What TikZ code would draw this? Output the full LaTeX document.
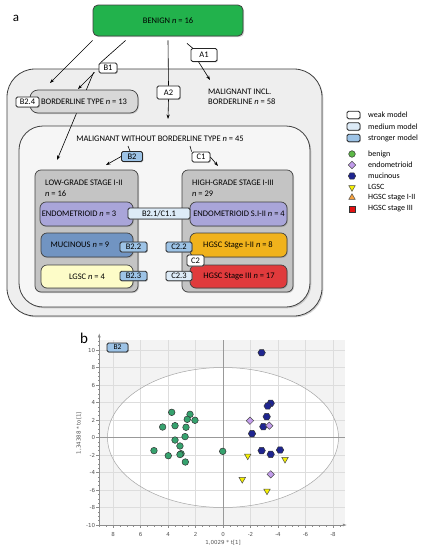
\documentclass[tikz,border=0pt]{standalone}
\usepackage{fontspec}
\setmainfont{Carlito}
\newfontfamily\plotfont{DejaVu Sans}
\usetikzlibrary{arrows.meta,shapes.geometric,shadows,calc}
\definecolor{bgreen}{HTML}{22B24C}
\definecolor{lav}{HTML}{A9A5D9}
\definecolor{mucb}{HTML}{7194C2}
\definecolor{amber}{HTML}{F0B21C}
\definecolor{hred}{HTML}{E03A3C}
\definecolor{lyel}{HTML}{FDFCC8}
\definecolor{gbox}{HTML}{C4C4C4}
\definecolor{bbox}{HTML}{D8D8D8}
\definecolor{outerc}{HTML}{EEEEEE}
\definecolor{innerc}{HTML}{F6F6F6}
\definecolor{medc}{HTML}{DDEBF7}
\definecolor{strc}{HTML}{9DC3E6}
\definecolor{edgec}{HTML}{404040}
\definecolor{sgreen}{HTML}{36A26E}
\definecolor{lgreen}{HTML}{5DB847}
\definecolor{navy}{HTML}{1F2590}
\definecolor{slav}{HTML}{C29CEB}
\definecolor{syel}{HTML}{F5F000}
\definecolor{sorange}{HTML}{F7A13E}
\definecolor{sred}{HTML}{E31212}
\definecolor{plotbg}{HTML}{F3F3F3}
\definecolor{gridc}{HTML}{DDDDDD}
\definecolor{tickc}{HTML}{555555}
\begin{document}
\begin{tikzpicture}[x=1pt,y=-1pt,
 font=\fontsize{8.5}{10}\selectfont,
 region/.style={draw=edgec,line width=0.8pt,inner sep=0pt,drop shadow={shadow xshift=1.3pt,shadow yshift=-1.3pt,opacity=0.35}},
 catbox/.style={draw=edgec,line width=0.7pt,inner sep=0pt,rounded corners=6pt,drop shadow={shadow xshift=1pt,shadow yshift=-1pt,opacity=0.35}},
 lab/.style={draw=black!85,line width=0.8pt,rounded corners=1.5pt,inner sep=0pt,fill=white,drop shadow={shadow xshift=0.8pt,shadow yshift=-0.8pt,opacity=0.45}},
 txt/.style={inner sep=0pt},
 arr/.style={-{Stealth[length=4.5pt,width=3.2pt]},line width=0.6pt},
 ln/.style={line width=0.6pt},
 legtxt/.style={inner sep=0pt,anchor=west,font=\fontsize{8}{9}\selectfont},
 tick/.style={inner sep=0pt,text=tickc,font=\plotfont\fontsize{5.5}{6}\selectfont},
 axc/.style={draw=black!45,line width=0.5pt},
 mcirc/.style={circle,draw=black!80,line width=0.5pt,fill=sgreen,minimum size=6.6pt,inner sep=0pt},
 mhex/.style={regular polygon,regular polygon sides=6,draw=black!80,line width=0.5pt,fill=navy,minimum size=7.4pt,inner sep=0pt},
 mdia/.style={diamond,draw=black!70,line width=0.5pt,fill=slav,minimum size=7.6pt,inner sep=0pt},
 mtri/.style={regular polygon,regular polygon sides=3,shape border rotate=180,draw=black!70,line width=0.5pt,fill=syel,minimum size=7.5pt,inner sep=0pt},
 mtriup/.style={regular polygon,regular polygon sides=3,draw=black!70,line width=0.5pt,fill=sorange,minimum size=7.5pt,inner sep=0pt},
 msq/.style={rectangle,draw=black!80,line width=0.5pt,fill=sred,minimum size=6pt,inner sep=0pt}]
\useasboundingbox (0,0) rectangle (425,550);
\fill[white] (0,0) rectangle (425,550);

% panel letters
\node[txt,font=\fontsize{13}{13}\selectfont] (pa) at (16,18) {a};
\node[txt,font=\fontsize{15}{15}\selectfont] (pb) at (84,338) {b};

% regions
\node[region,fill=outerc,rounded corners=28pt,minimum width=315pt,minimum height=247pt] (outer) at (164.5,192.5) {};
\node[region,fill=innerc,rounded corners=24pt,minimum width=291pt,minimum height=181pt] (inner) at (164.5,216.5) {};
\node[draw=edgec,line width=0.8pt,fill=bgreen,rounded corners=5pt,minimum width=150pt,minimum height=31pt,drop shadow={shadow xshift=1.2pt,shadow yshift=-1.2pt,opacity=0.35}] (benign) at (168,20.5) {BENIGN \textit{n} = 16};

% model labels on the upper connectors
\node[lab,minimum width=18pt,minimum height=10pt] (B1) at (108,68) {B1};
\node[lab,minimum width=26pt,minimum height=13pt] (A1) at (204,55) {A1};
\node[lab,minimum width=23pt,minimum height=13pt] (A2) at (168.5,92.5) {A2};
\node[lab,fill=strc,minimum width=21pt,minimum height=10pt] (B2) at (132,156.5) {B2};
\node[lab,minimum width=18pt,minimum height=10pt] (C1) at (201,157) {C1};

% connector ends
\coordinate (s1) at ($(benign.south west)+(0,4)$);
\coordinate (s2) at ($(benign.south west)+(33,4)$);
\coordinate (s3) at ($(benign.south)+(0,4)$);
\coordinate (s4) at ($(benign.south)+(19,7)$);
\coordinate (s5) at (128,146);
\coordinate (s6) at (190,146);
\coordinate (e1) at (50,83);
\coordinate (e2) at (78,89);
\coordinate (e3) at (57,160);
\coordinate (e4) at (210,80);
\coordinate (e5) at (168,119);
\coordinate (e6) at (106,165);
\coordinate (e7) at (218,166);

\draw[arr] (s1) -- (e1);
\draw[ln] (s2) -- ($(B1.north west)+(2,0)$);
\draw[arr] ($(B1.south west)+(-4,-1)$) -- (e2);
\draw[arr] ($(B1.south west)+(-5,-1)$) -- (e3);
\draw[ln] (s3) -- (A2.north);
\draw[arr] (A2.south) -- (e5);
\draw[ln] (s4) -- ($(A1.north west)+(2,0)$);
\draw[arr] ($(A1.south west)+(8,0)$) -- (e4);
\draw[ln] (s5) -- ($(B2.north)+(-2,0)$);
\draw[arr] (B2.west) -- (e6);
\draw[ln] (s6) -- (C1.north west);
\draw[arr] (C1.east) -- (e7);

% borderline
\node[catbox,fill=bbox,rounded corners=8pt,minimum width=108pt,minimum height=23pt] (border) at (84,101.5) {BORDERLINE TYPE \textit{n} = 13};
\node[lab,minimum width=23pt,minimum height=10pt] (B24) at (27.5,102) {B2.4};

% region titles
\node[txt,anchor=west,align=left] (mincl) at (208,97) {MALIGNANT INCL.\\BORDERLINE \textit{n} = 58};
\node[txt] (mwo) at (160,139) {MALIGNANT WITHOUT BORDERLINE TYPE \textit{n} = 45};

% grade boxes
\node[catbox,fill=gbox,minimum width=103pt,minimum height=122pt] (low) at (86.5,231) {};
\node[catbox,fill=gbox,minimum width=111pt,minimum height=122pt] (high) at (237.5,231) {};
\node[txt,anchor=west,align=left,font=\fontsize{8.5}{10.6}\selectfont] (lowt) at (45,188) {LOW-GRADE STAGE I-II\\\textit{n} = 16};
\node[txt,anchor=west,align=left,font=\fontsize{8.5}{10.6}\selectfont] (hight) at (192,188) {HIGH-GRADE STAGE I-III\\\textit{n} = 29};

% subtype boxes
\node[catbox,fill=lav,minimum width=93pt,minimum height=24pt] (endo1) at (86.5,214) {};
\node[catbox,fill=lav,minimum width=97pt,minimum height=24pt] (endo2) at (238.5,214) {};
\node[catbox,fill=mucb,minimum width=92pt,minimum height=24pt] (muc) at (87,245) {};
\node[catbox,fill=amber,minimum width=97pt,minimum height=24pt] (hg12) at (238.5,245) {};
\node[catbox,fill=lyel,minimum width=92pt,minimum height=23pt] (lgsc) at (87,276.5) {};
\node[catbox,fill=hred,minimum width=97pt,minimum height=23pt] (hg3) at (238.5,276.5) {};
\node[txt] (endo1t) at (79,214) {ENDOMETRIOID \textit{n} = 3};
\node[txt] (endo2t) at (239,214) {ENDOMETRIOID S.I-II \textit{n} = 4};
\node[txt] (muct) at (80,245) {MUCINOUS \textit{n} = 9};
\node[txt] (hg12t) at (238,245) {HGSC Stage I-II \textit{n} = 8};
\node[txt] (lgsct) at (87,276.5) {LGSC \textit{n} = 4};
\node[txt] (hg3t) at (239,276.5) {HGSC Stage III \textit{n} = 17};

% model labels between columns
\node[lab,fill=medc,minimum width=62pt,minimum height=11pt] (B21) at (159,213.5) {B2.1/C1.1};
\node[lab,fill=strc,minimum width=27pt,minimum height=10pt] (B22) at (133.5,247) {B2.2};
\node[lab,fill=strc,minimum width=26pt,minimum height=10pt] (C22) at (179,247) {C2.2};
\node[lab,minimum width=17pt,minimum height=11pt] (C2) at (195.5,260.5) {C2};
\node[lab,fill=strc,minimum width=27pt,minimum height=9.5pt] (B23) at (133.5,276) {B2.3};
\node[lab,fill=medc,minimum width=26pt,minimum height=9.5pt] (C23) at (179,276) {C2.3};

% legend
\node[lab,minimum width=13pt,minimum height=7.5pt] (lw) at (353.5,115) {};
\node[lab,fill=medc,minimum width=13pt,minimum height=7.5pt] (lm) at (353.5,126.5) {};
\node[lab,fill=strc,minimum width=13pt,minimum height=7.5pt] (ls) at (353.5,138) {};
\node[legtxt] (lwt) at (368,115) {weak model};
\node[legtxt] (lmt) at (368,126.5) {medium model};
\node[legtxt] (lst) at (368,138) {stronger model};
\node[mcirc,fill=lgreen] (k1) at (352,154) {};
\node[mdia] (k2) at (352,165) {};
\node[mhex] (k3) at (352,176) {};
\node[mtri] (k4) at (352,187.5) {};
\node[mtriup] (k5) at (352,197.5) {};
\node[msq] (k6) at (352,209) {};
\node[legtxt] (k1t) at (368,154) {benign};
\node[legtxt] (k2t) at (368,165) {endometrioid};
\node[legtxt] (k3t) at (368,176) {mucinous};
\node[legtxt] (k4t) at (368,187) {LGSC};
\node[legtxt] (k5t) at (368,198) {HGSC stage I-II};
\node[legtxt] (k6t) at (368,209) {HGSC stage III};

% score plot
\begin{scope}[shift={(223,437.5)},x={(-13.75pt,0pt)},y={(0pt,8.75pt)}]
 \fill[plotbg] (9,-10) rectangle (-8.9,11.2);
 \fill[white] (0,0) ellipse [x radius=115.5pt,y radius=70pt];
 \foreach \u in {8,6,4,2,-2,-4,-6,-8} \draw[gridc,line width=0.4pt] (\u,-10) -- (\u,11.2);
 \foreach \v in {10,8,6,4,2,-2,-4,-6,-8} \draw[gridc,line width=0.4pt] (9,\v) -- (-8.9,\v);
 \draw[black!35,line width=0.5pt] (0,0) ellipse [x radius=115.5pt,y radius=70pt];
 \draw[black!40,line width=0.9pt] (0,-10) -- (0,11.2);
 \draw[black!40,line width=0.9pt] (9,0) -- (-8.9,0);
 \draw[axc,-{Latex[length=4pt,width=3pt]}] (9,-10) -- (9,11.9);
 \draw[axc,-{Latex[length=4pt,width=3pt]}] (9,-10) -- (-9,-10);
 \foreach \k in {-20,...,22} \draw[axc] (9,\k/2) -- ++(-1.5pt,0pt);
 \foreach \v in {-10,-8,...,10} \draw[axc] (9,\v) -- ++(-3pt,0pt);
 \foreach \k in {-17,...,18} \draw[axc] (\k/2,-10) -- ++(0pt,-1.5pt);
 \foreach \u in {-8,-6,...,8} \draw[axc] (\u,-10) -- ++(0pt,-3pt);
 \foreach \v [count=\i] in {-10,-8,-6,-4,-2,0,2,4,6,8,10} \node[tick,anchor=east,xshift=-4pt] (yl\i) at (9,\v) {\v};
 \foreach \u [count=\i] in {8,6,4,2,0,-2,-4,-6,-8} \node[tick,yshift=-9pt] (xl\i) at (\u,-10) {\u};
 \foreach \x/\y [count=\i] in {3.73/2.88,2.4/2.65,2.6/2.08,2.04/1.97,4.39/1.2,3.49/1.35,2.69/1.17,2.76/0.1,3.49/-0.29,3.13/-0.97,5.02/-1.5,3.98/-2.08,3.05/-1.85,3.13/-1.95,2.74/-2.8,0.02/-1.58}
   \node[mcirc] (g\i) at (\x,\y) {};
 \foreach \x/\y [count=\i] in {-2.81/9.69,-3.47/3.91,-3.25/3.6,-3.18/2.38,-2.93/1.24,-2.11/0.44,-2.81/-1.5,-3.47/-1.92,-4.15/-1.43}
   \node[mhex] (h\i) at (\x,\y) {};
 \foreach \x/\y [count=\i] in {-1.96/1.92,-3.37/1.35,-3.47/-4.21}
   \node[mdia] (d\i) at (\x,\y) {};
 \foreach \x/\y [count=\i] in {-1.8/-2.11,-4.51/-2.49,-1.4/-4.78,-3.2/-6.11}
   \node[mtri] (t\i) at (\x,\y) {};
\end{scope}
\node[tick,rotate=90] (ytitle) at (79,433) {1,34388 * to[1]};
\node[tick] (xtitle) at (223,543) {1,0029 * t[1]};
\node[lab,fill=strc,minimum width=21pt,minimum height=9pt,font=\fontsize{7.5}{8}\selectfont] (B2p) at (117.5,347.5) {B2};
\end{tikzpicture}
\end{document}
